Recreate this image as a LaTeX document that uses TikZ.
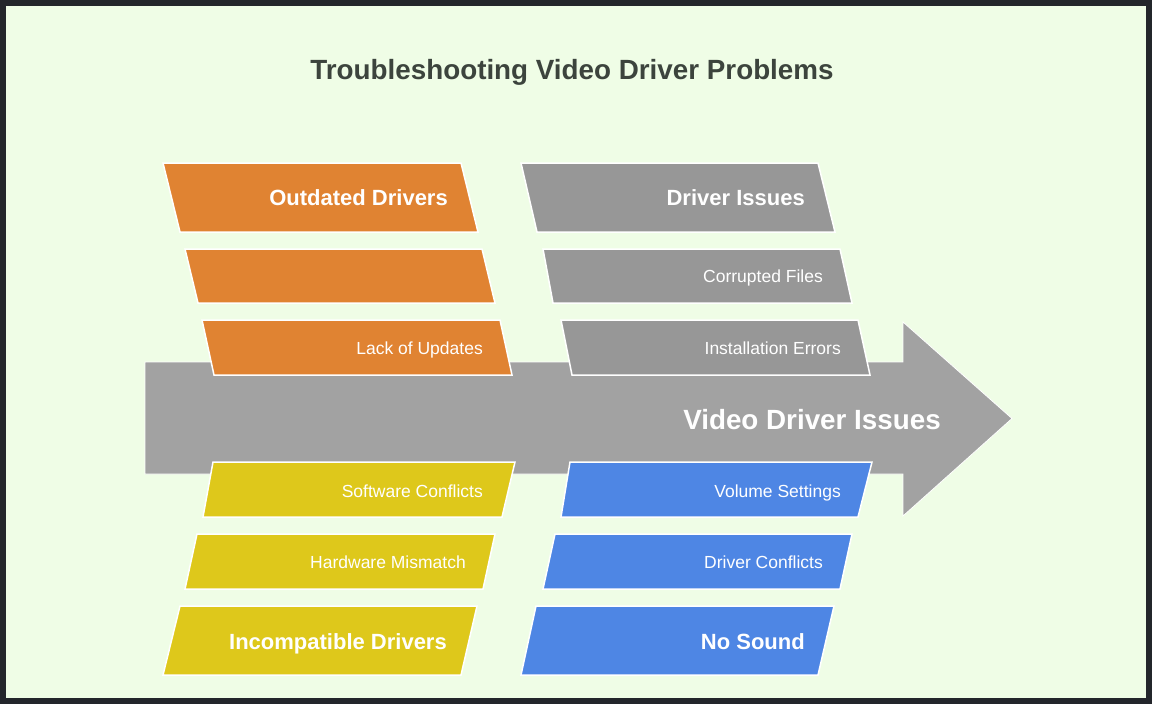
\documentclass[tikz,border=0pt]{standalone}
\usepackage{fontspec}
\setmainfont{Liberation Sans}
\definecolor{frame}{HTML}{23262B}
\definecolor{bg}{HTML}{EFFDE6}
\definecolor{ttl}{HTML}{3C443D}
\definecolor{orng}{HTML}{E08332}
\definecolor{gbox}{HTML}{979797}
\definecolor{garrow}{HTML}{A2A2A2}
\definecolor{yell}{HTML}{DEC81B}
\definecolor{blu}{HTML}{4E86E4}
\tikzset{
  pbox/.style={draw=white, line width=1.5pt, line join=miter},
  lbl/.style={anchor=base east, inner sep=0pt, text=white, font=\fontsize{17.5}{20}\selectfont},
  blbl/.style={anchor=base east, inner sep=0pt, text=white, font=\fontsize{22}{26}\selectfont\bfseries},
}
\begin{document}
\begin{tikzpicture}[x=1pt,y=-1pt]
\useasboundingbox (0,0) rectangle (1152,704);
\fill[frame] (0,0) rectangle (1152,704);
\fill[bg] (6,6) rectangle (1146,698);
% title
\node[anchor=base, inner sep=0pt, text=ttl, font=\fontsize{27.8}{32}\selectfont\bfseries] (title) at (572,79.5) {Troubleshooting Video Driver Problems};
% main arrow
\path[fill=garrow, draw=white, line width=0.8pt] (145,362) -- (903,362) -- (903,322) -- (1012,418.5) -- (903,516) -- (903,474) -- (145,474) -- cycle;
% orange (top left)
\path[pbox, fill=orng] (163,163) -- (461,163) -- (478,232) -- (180,232) -- cycle;
\path[pbox, fill=orng] (185,249) -- (482,249) -- (495,303) -- (198,303) -- cycle;
\path[pbox, fill=orng] (202,320) -- (500,320) -- (512,375) -- (214,375) -- cycle;
% gray (top right)
\path[pbox, fill=gbox] (521,163) -- (818,163) -- (835,232) -- (537,232) -- cycle;
\path[pbox, fill=gbox] (543,249) -- (840,249) -- (852,303) -- (553,303) -- cycle;
\path[pbox, fill=gbox] (561,320) -- (858,320) -- (870,375) -- (572,375) -- cycle;
% yellow (bottom left)
\path[pbox, fill=yell] (213,462) -- (515,462) -- (502,517) -- (203,517) -- cycle;
\path[pbox, fill=yell] (197,534) -- (495,534) -- (483,589) -- (185,589) -- cycle;
\path[pbox, fill=yell] (180,606) -- (477,606) -- (461,675) -- (163,675) -- cycle;
% blue (bottom right)
\path[pbox, fill=blu] (570,462) -- (872,462) -- (858,517) -- (561,517) -- cycle;
\path[pbox, fill=blu] (555,534) -- (852,534) -- (840,589) -- (543,589) -- cycle;
\path[pbox, fill=blu] (536,606) -- (834,606) -- (818,675) -- (521,675) -- cycle;
% labels
\node[blbl] (outdated) at (448,205) {Outdated Drivers};
\node[lbl] (lack) at (483,354) {Lack of Updates};
\node[blbl] (driverissues) at (805,205) {Driver Issues};
\node[lbl] (corrupted) at (823,282.5) {Corrupted Files};
\node[lbl] (install) at (841,354) {Installation Errors};
\node[anchor=base east, inner sep=0pt, text=white, font=\fontsize{27.8}{32}\selectfont\bfseries] (main) at (941,429) {Video Driver Issues};
\node[lbl] (software) at (483,497) {Software Conflicts};
\node[lbl] (hardware) at (466,568.5) {Hardware Mismatch};
\node[blbl] (incompat) at (447,649) {Incompatible Drivers};
\node[lbl] (volume) at (841,497) {Volume Settings};
\node[lbl] (conflicts) at (823,568.5) {Driver Conflicts};
\node[blbl] (nosound) at (805,649) {No Sound};
\end{tikzpicture}
\end{document}
